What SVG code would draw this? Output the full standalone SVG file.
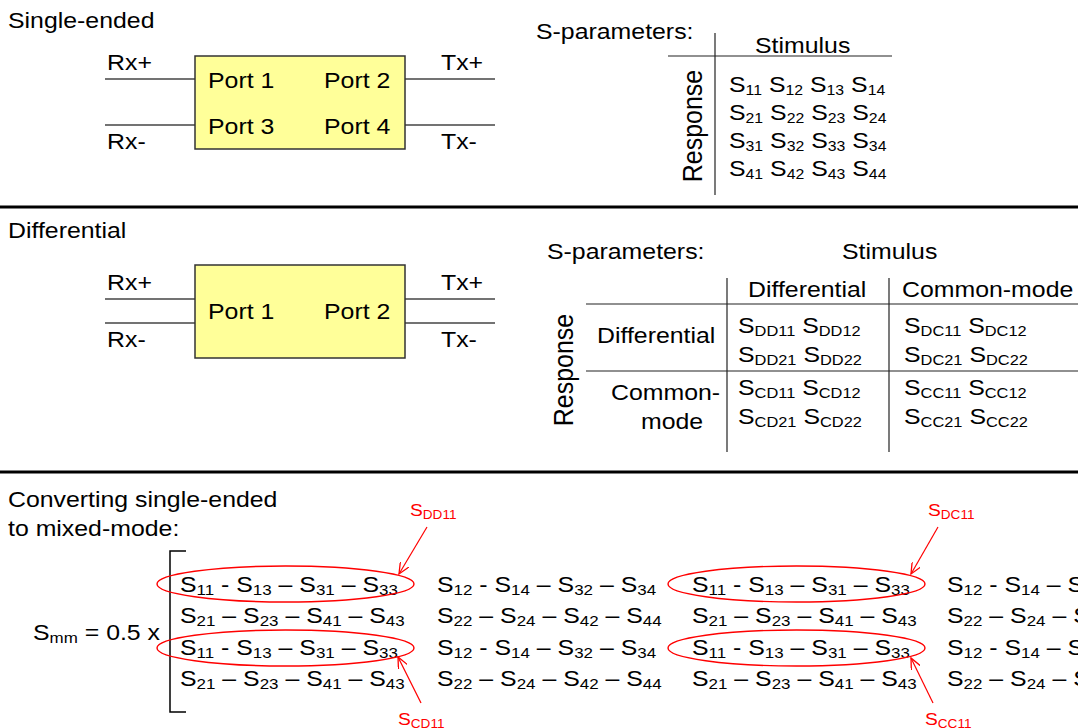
<svg xmlns="http://www.w3.org/2000/svg" width="1078" height="728" viewBox="0 0 1078 728">
<style>
text{font-family:"Liberation Sans",Arial,sans-serif;font-size:22px;fill:#000}
.rot{font-size:25px}
.s1{font-size:14px}
.s3{font-size:14.5px}
.s2{font-size:15px}
.red{fill:#ff0000;font-size:17px}
.rs{font-size:12px}
.box{fill:#ffff99;stroke:#333;stroke-width:1.5}
.pin{stroke:#444;stroke-width:1.5;fill:none}
.tl{stroke:#222;stroke-width:1.2;fill:none}
.sep{stroke:#000;stroke-width:3}
.ell{fill:none;stroke:#ff0000;stroke-width:1.4}
.arr{stroke:#ff0000;stroke-width:1.2;fill:none;marker-end:url(#ah)}
</style>
<defs>
<marker id="ah" viewBox="0 0 12 10" refX="11" refY="5" markerWidth="12" markerHeight="10" orient="auto" markerUnits="userSpaceOnUse"><path d="M0,0 L11,5 L0,10" fill="none" stroke="#ff0000" stroke-width="1.3"/></marker>
</defs>
<rect width="1078" height="728" fill="#fff"/>
<g id="separators">
<line class="sep" x1="0" y1="207" x2="1078" y2="207"/>
<line class="sep" x1="0" y1="472" x2="1078" y2="472"/>
</g>
<g id="connectors">
<line class="pin" x1="105" y1="79" x2="195" y2="79"/>
<line class="pin" x1="105" y1="125" x2="195" y2="125"/>
<line class="pin" x1="405" y1="79" x2="495" y2="79"/>
<line class="pin" x1="405" y1="125" x2="495" y2="125"/>
<line class="pin" x1="105" y1="299" x2="195" y2="299"/>
<line class="pin" x1="105" y1="323" x2="195" y2="323"/>
<line class="pin" x1="405" y1="299" x2="495" y2="299"/>
<line class="pin" x1="405" y1="323" x2="495" y2="323"/>
<line class="arr" x1="427" y1="527" x2="399" y2="574"/>
<line class="arr" x1="421" y1="703" x2="398" y2="657"/>
<line class="arr" x1="938" y1="527" x2="911" y2="574"/>
<line class="arr" x1="933" y1="703" x2="911" y2="658"/>
</g>
<g id="title-se"><text transform="translate(8,28) scale(1.13,1)">Single-ended</text></g>
<g id="box-se">
<rect class="box" x="195" y="56" width="210" height="93"/>
<text transform="translate(208,88) scale(1.13,1)">Port 1</text>
<text transform="translate(324,88) scale(1.13,1)">Port 2</text>
<text transform="translate(208,134) scale(1.13,1)">Port 3</text>
<text transform="translate(324,134) scale(1.13,1)">Port 4</text>
</g>
<g id="labels-se">
<text transform="translate(107,70) scale(1.13,1)">Rx+</text>
<text transform="translate(107,149) scale(1.13,1)">Rx-</text>
<text transform="translate(441,70) scale(1.13,1)">Tx+</text>
<text transform="translate(441,149) scale(1.13,1)">Tx-</text>
</g>
<g id="table-se">
<text transform="translate(536,39) scale(1.13,1)">S-parameters:</text>
<line class="tl" x1="715" y1="33" x2="715" y2="195"/>
<line class="tl" x1="668" y1="56" x2="892" y2="56"/>
<text transform="translate(755,53) scale(1.13,1)">Stimulus</text>
<text class="rot" text-anchor="middle" transform="translate(702,126) scale(1.13,1) rotate(-90)">Response</text>
<text transform="translate(729,92) scale(1.13,1)">S<tspan class="s1" dy="3">11</tspan><tspan dy="-3"> S</tspan><tspan class="s1" dy="3">12</tspan><tspan dy="-3"> S</tspan><tspan class="s1" dy="3">13</tspan><tspan dy="-3"> S</tspan><tspan class="s1" dy="3">14</tspan></text>
<text transform="translate(729,120) scale(1.13,1)">S<tspan class="s1" dy="3">21</tspan><tspan dy="-3"> S</tspan><tspan class="s1" dy="3">22</tspan><tspan dy="-3"> S</tspan><tspan class="s1" dy="3">23</tspan><tspan dy="-3"> S</tspan><tspan class="s1" dy="3">24</tspan></text>
<text transform="translate(729,148) scale(1.13,1)">S<tspan class="s1" dy="3">31</tspan><tspan dy="-3"> S</tspan><tspan class="s1" dy="3">32</tspan><tspan dy="-3"> S</tspan><tspan class="s1" dy="3">33</tspan><tspan dy="-3"> S</tspan><tspan class="s1" dy="3">34</tspan></text>
<text transform="translate(729,176) scale(1.13,1)">S<tspan class="s1" dy="3">41</tspan><tspan dy="-3"> S</tspan><tspan class="s1" dy="3">42</tspan><tspan dy="-3"> S</tspan><tspan class="s1" dy="3">43</tspan><tspan dy="-3"> S</tspan><tspan class="s1" dy="3">44</tspan></text>
</g>
<g id="title-diff"><text transform="translate(8,238) scale(1.13,1)">Differential</text></g>
<g id="box-diff">
<rect class="box" x="195" y="265" width="210" height="93"/>
<text transform="translate(208,319) scale(1.13,1)">Port 1</text>
<text transform="translate(324,319) scale(1.13,1)">Port 2</text>
</g>
<g id="labels-diff">
<text transform="translate(107,290) scale(1.13,1)">Rx+</text>
<text transform="translate(107,347) scale(1.13,1)">Rx-</text>
<text transform="translate(441,290) scale(1.13,1)">Tx+</text>
<text transform="translate(441,347) scale(1.13,1)">Tx-</text>
</g>
<g id="table-diff">
<text transform="translate(547,259) scale(1.13,1)">S-parameters:</text>
<text transform="translate(842,259) scale(1.13,1)">Stimulus</text>
<text transform="translate(748,297) scale(1.13,1)">Differential</text>
<text transform="translate(902,297) scale(1.13,1)">Common-mode</text>
<line class="tl" x1="727" y1="278" x2="727" y2="452"/>
<line class="tl" x1="889" y1="278" x2="889" y2="452"/>
<line class="tl" x1="586" y1="304" x2="1078" y2="304"/>
<line class="tl" x1="586" y1="371" x2="1078" y2="371"/>
<text class="rot" text-anchor="middle" transform="translate(573,370) scale(1.13,1) rotate(-90)">Response</text>
<text transform="translate(597,343) scale(1.13,1)">Differential</text>
<text transform="translate(611,400) scale(1.13,1)">Common-</text>
<text transform="translate(641,429) scale(1.13,1)">mode</text>
<text transform="translate(738,333) scale(1.13,1)">S<tspan class="s3" dy="3">DD11</tspan><tspan dy="-3"> S</tspan><tspan class="s3" dy="3">DD12</tspan></text>
<text transform="translate(738,362) scale(1.13,1)">S<tspan class="s3" dy="3">DD21</tspan><tspan dy="-3"> S</tspan><tspan class="s3" dy="3">DD22</tspan></text>
<text transform="translate(738,395) scale(1.13,1)">S<tspan class="s3" dy="3">CD11</tspan><tspan dy="-3"> S</tspan><tspan class="s3" dy="3">CD12</tspan></text>
<text transform="translate(738,424) scale(1.13,1)">S<tspan class="s3" dy="3">CD21</tspan><tspan dy="-3"> S</tspan><tspan class="s3" dy="3">CD22</tspan></text>
<text transform="translate(904,333) scale(1.13,1)">S<tspan class="s3" dy="3">DC11</tspan><tspan dy="-3"> S</tspan><tspan class="s3" dy="3">DC12</tspan></text>
<text transform="translate(904,362) scale(1.13,1)">S<tspan class="s3" dy="3">DC21</tspan><tspan dy="-3"> S</tspan><tspan class="s3" dy="3">DC22</tspan></text>
<text transform="translate(904,395) scale(1.13,1)">S<tspan class="s3" dy="3">CC11</tspan><tspan dy="-3"> S</tspan><tspan class="s3" dy="3">CC12</tspan></text>
<text transform="translate(904,424) scale(1.13,1)">S<tspan class="s3" dy="3">CC21</tspan><tspan dy="-3"> S</tspan><tspan class="s3" dy="3">CC22</tspan></text>
</g>
<g id="title-conv">
<text transform="translate(8,507) scale(1.13,1)">Converting single-ended</text>
<text transform="translate(8,536) scale(1.13,1)">to mixed-mode:</text>
</g>
<g id="matrix">
<text transform="translate(33,640) scale(1.13,1)">S<tspan class="s2" dy="3">mm</tspan><tspan dy="-3"> = 0.5 x</tspan></text>
<path d="M186,551 H170 V712 H186" fill="none" stroke="#000" stroke-width="1.5"/>
<text transform="translate(180,592) scale(1.13,1)">S<tspan class="s2" dy="3">11</tspan><tspan dy="-3"> - S</tspan><tspan class="s2" dy="3">13</tspan><tspan dy="-3"> – S</tspan><tspan class="s2" dy="3">31</tspan><tspan dy="-3"> – S</tspan><tspan class="s2" dy="3">33</tspan></text>
<text transform="translate(180,623) scale(1.13,1)">S<tspan class="s2" dy="3">21</tspan><tspan dy="-3"> – S</tspan><tspan class="s2" dy="3">23</tspan><tspan dy="-3"> – S</tspan><tspan class="s2" dy="3">41</tspan><tspan dy="-3"> – S</tspan><tspan class="s2" dy="3">43</tspan></text>
<text transform="translate(180,655) scale(1.13,1)">S<tspan class="s2" dy="3">11</tspan><tspan dy="-3"> - S</tspan><tspan class="s2" dy="3">13</tspan><tspan dy="-3"> – S</tspan><tspan class="s2" dy="3">31</tspan><tspan dy="-3"> – S</tspan><tspan class="s2" dy="3">33</tspan></text>
<text transform="translate(180,686) scale(1.13,1)">S<tspan class="s2" dy="3">21</tspan><tspan dy="-3"> – S</tspan><tspan class="s2" dy="3">23</tspan><tspan dy="-3"> – S</tspan><tspan class="s2" dy="3">41</tspan><tspan dy="-3"> – S</tspan><tspan class="s2" dy="3">43</tspan></text>
<text transform="translate(437,592) scale(1.13,1)">S<tspan class="s2" dy="3">12</tspan><tspan dy="-3"> - S</tspan><tspan class="s2" dy="3">14</tspan><tspan dy="-3"> – S</tspan><tspan class="s2" dy="3">32</tspan><tspan dy="-3"> – S</tspan><tspan class="s2" dy="3">34</tspan></text>
<text transform="translate(437,623) scale(1.13,1)">S<tspan class="s2" dy="3">22</tspan><tspan dy="-3"> – S</tspan><tspan class="s2" dy="3">24</tspan><tspan dy="-3"> – S</tspan><tspan class="s2" dy="3">42</tspan><tspan dy="-3"> – S</tspan><tspan class="s2" dy="3">44</tspan></text>
<text transform="translate(437,655) scale(1.13,1)">S<tspan class="s2" dy="3">12</tspan><tspan dy="-3"> - S</tspan><tspan class="s2" dy="3">14</tspan><tspan dy="-3"> – S</tspan><tspan class="s2" dy="3">32</tspan><tspan dy="-3"> – S</tspan><tspan class="s2" dy="3">34</tspan></text>
<text transform="translate(437,686) scale(1.13,1)">S<tspan class="s2" dy="3">22</tspan><tspan dy="-3"> – S</tspan><tspan class="s2" dy="3">24</tspan><tspan dy="-3"> – S</tspan><tspan class="s2" dy="3">42</tspan><tspan dy="-3"> – S</tspan><tspan class="s2" dy="3">44</tspan></text>
<text transform="translate(692,592) scale(1.13,1)">S<tspan class="s2" dy="3">11</tspan><tspan dy="-3"> - S</tspan><tspan class="s2" dy="3">13</tspan><tspan dy="-3"> – S</tspan><tspan class="s2" dy="3">31</tspan><tspan dy="-3"> – S</tspan><tspan class="s2" dy="3">33</tspan></text>
<text transform="translate(692,623) scale(1.13,1)">S<tspan class="s2" dy="3">21</tspan><tspan dy="-3"> – S</tspan><tspan class="s2" dy="3">23</tspan><tspan dy="-3"> – S</tspan><tspan class="s2" dy="3">41</tspan><tspan dy="-3"> – S</tspan><tspan class="s2" dy="3">43</tspan></text>
<text transform="translate(692,655) scale(1.13,1)">S<tspan class="s2" dy="3">11</tspan><tspan dy="-3"> - S</tspan><tspan class="s2" dy="3">13</tspan><tspan dy="-3"> – S</tspan><tspan class="s2" dy="3">31</tspan><tspan dy="-3"> – S</tspan><tspan class="s2" dy="3">33</tspan></text>
<text transform="translate(692,686) scale(1.13,1)">S<tspan class="s2" dy="3">21</tspan><tspan dy="-3"> – S</tspan><tspan class="s2" dy="3">23</tspan><tspan dy="-3"> – S</tspan><tspan class="s2" dy="3">41</tspan><tspan dy="-3"> – S</tspan><tspan class="s2" dy="3">43</tspan></text>
<text transform="translate(947,592) scale(1.13,1)">S<tspan class="s2" dy="3">12</tspan><tspan dy="-3"> - S</tspan><tspan class="s2" dy="3">14</tspan><tspan dy="-3"> – S</tspan><tspan class="s2" dy="3">32</tspan><tspan dy="-3"> – S</tspan><tspan class="s2" dy="3">34</tspan></text>
<text transform="translate(947,623) scale(1.13,1)">S<tspan class="s2" dy="3">22</tspan><tspan dy="-3"> – S</tspan><tspan class="s2" dy="3">24</tspan><tspan dy="-3"> – S</tspan><tspan class="s2" dy="3">42</tspan><tspan dy="-3"> – S</tspan><tspan class="s2" dy="3">44</tspan></text>
<text transform="translate(947,655) scale(1.13,1)">S<tspan class="s2" dy="3">12</tspan><tspan dy="-3"> - S</tspan><tspan class="s2" dy="3">14</tspan><tspan dy="-3"> – S</tspan><tspan class="s2" dy="3">32</tspan><tspan dy="-3"> – S</tspan><tspan class="s2" dy="3">34</tspan></text>
<text transform="translate(947,686) scale(1.13,1)">S<tspan class="s2" dy="3">22</tspan><tspan dy="-3"> – S</tspan><tspan class="s2" dy="3">24</tspan><tspan dy="-3"> – S</tspan><tspan class="s2" dy="3">42</tspan><tspan dy="-3"> – S</tspan><tspan class="s2" dy="3">44</tspan></text>
</g>
<g id="highlights">
<ellipse class="ell" cx="285.5" cy="584" rx="128.5" ry="18"/>
<ellipse class="ell" cx="285.5" cy="648" rx="128.5" ry="18"/>
<ellipse class="ell" cx="796.5" cy="584" rx="128.5" ry="18"/>
<ellipse class="ell" cx="796.5" cy="648" rx="128.5" ry="18"/>
</g>
<g id="red-labels">
<text class="red" transform="translate(410,516) scale(1.13,1)">S<tspan class="rs" dy="3">DD11</tspan></text>
<text class="red" transform="translate(398,725) scale(1.13,1)">S<tspan class="rs" dy="3">CD11</tspan></text>
<text class="red" transform="translate(928,516) scale(1.13,1)">S<tspan class="rs" dy="3">DC11</tspan></text>
<text class="red" transform="translate(925,725) scale(1.13,1)">S<tspan class="rs" dy="3">CC11</tspan></text>
</g>
</svg>
